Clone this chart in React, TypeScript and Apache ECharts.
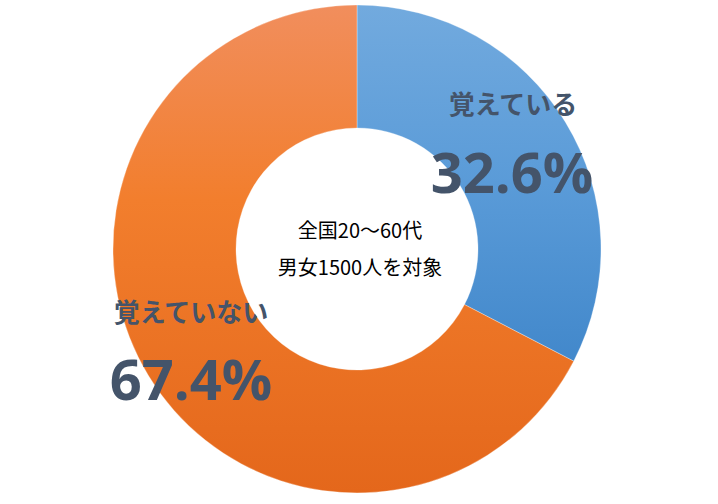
import React, { useEffect, useRef } from "react";
import * as echarts from "echarts";

const categories = ["覚えている", "覚えていない"];
const values = [32.6, 67.4];
const centerLines = ["全国20〜60代", "男女1500人を対象"];

export default function App() {
  const ref = useRef<HTMLDivElement>(null);
  useEffect(() => {
    document.body.style.margin = "0";
    const chart = echarts.init(ref.current!, null, { renderer: "svg" });
    const grad = (stops: [number, string][]) => ({
      type: "linear",
      x: 0,
      y: 0,
      x2: 0,
      y2: 1,
      colorStops: stops.map(([offset, color]) => ({ offset, color })),
    });
    const colors = [
      grad([
        [0, "#72aade"],
        [0.5, "#5a9bd8"],
        [1, "#4288cb"],
      ]),
      grad([
        [0, "#f18e5d"],
        [0.4, "#f27e2d"],
        [1, "#e4671b"],
      ]),
    ];
    const labelColor = "#44546a";
    const cjk = '"Noto Sans CJK JP", "Noto Sans", sans-serif';
    const num = '"Open Sans", "Noto Sans", sans-serif';
    const txt = (x: number, y: number, text: string, font: string, fill: string) => ({
      type: "text",
      x,
      y,
      z: 100,
      style: { text, font, fill, align: "center", verticalAlign: "middle" },
    });
    chart.setOption({
      animation: false,
      backgroundColor: "#ffffff",
      series: [
        {
          type: "pie",
          center: [357, 249],
          radius: [121, 244],
          startAngle: 90,
          clockwise: true,
          z: 1,
          label: { show: false },
          labelLine: { show: false },
          emphasis: { disabled: true },
          itemStyle: { borderColor: "rgba(255,255,255,0.5)", borderWidth: 0.6 },
          data: categories.map((c, i) => ({
            name: c,
            value: values[i],
            itemStyle: { color: colors[i] },
          })),
        },
      ],
      graphic: {
        elements: [
          txt(513, 102, categories[0], `bold 26px ${cjk}`, labelColor),
          txt(512, 171, `${values[0].toFixed(1)}%`, `bold 56px ${num}`, labelColor),
          txt(191, 310, categories[1], `bold 26px ${cjk}`, labelColor),
          txt(191, 378, `${values[1].toFixed(1)}%`, `bold 56px ${num}`, labelColor),
          txt(360, 229, centerLines[0], `20px ${cjk}`, "#000000"),
          txt(360, 266, centerLines[1], `20px ${cjk}`, "#000000"),
        ],
      },
    });
    return () => chart.dispose();
  }, []);
  return <div ref={ref} style={{ width: 718, height: 504 }} />;
}
